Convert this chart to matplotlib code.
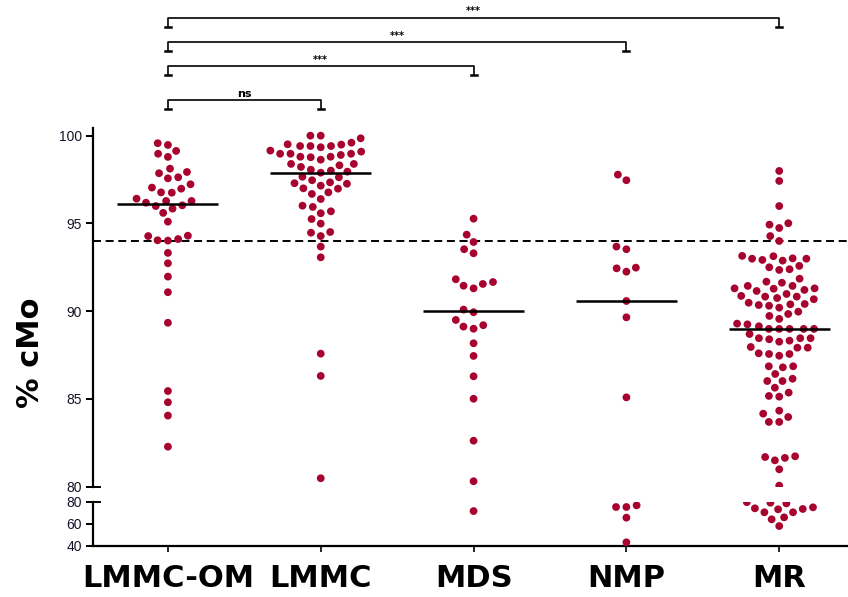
import numpy as np
import pandas as pd
import matplotlib
matplotlib.use("Agg")
import matplotlib.pyplot as plt
import seaborn as sns

# --- data (% cMo per patient) ---
groups = ["LMMC-OM", "LMMC", "MDS", "NMP", "MR"]

lmmc_om = [99.57, 99.47, 99.13, 98.97, 98.79, 98.12, 97.93, 97.86, 97.57, 97.63,
           97.23, 97.04, 96.98, 96.75, 96.77, 96.41, 96.18, 96.28, 96.28, 96.03,
           95.99, 95.84, 95.60, 95.10, 94.30, 94.28, 94.11, 94.02, 94.04, 93.32,
           92.73, 91.97, 91.08, 89.34, 85.45, 84.81, 84.05, 82.28]

lmmc = [100.0, 99.85, 100.0, 99.60, 99.34, 99.09, 99.51, 99.41, 99.15, 99.49,
        99.41, 99.41, 98.97, 98.90, 98.80, 98.80, 98.97, 98.97, 98.63, 98.77,
        98.39, 98.39, 98.31, 98.06, 98.22, 97.95, 98.01, 97.89, 97.63, 97.66,
        97.46, 97.26, 97.34, 97.29, 96.98, 97.15, 97.00, 96.77, 96.68, 96.39,
        96.01, 95.94, 95.69, 95.58, 95.25, 94.99, 94.51, 94.47, 94.28, 93.68,
        93.07, 87.58, 86.31, 80.48]

mds = [95.27, 94.36, 93.94, 93.53, 93.30, 91.82, 91.66, 91.55, 91.30, 91.45,
       90.09, 89.94, 89.50, 89.20, 89.12, 89.00, 88.17, 87.45, 86.29, 85.01,
       82.62, 80.31, 71.5]

nmp = [97.78, 97.46, 93.68, 93.53, 92.44, 92.48, 92.25, 90.58, 89.65, 85.09,
       76.7, 75.2, 75.2, 65.5, 43.1]

mr = [97.99, 97.42, 95.99, 94.74, 94.93, 95.01, 94.28, 94.00, 93.15, 92.92,
      93.01, 92.99, 92.99, 93.13, 92.88, 92.50, 92.58, 92.35, 92.39, 91.85,
      91.68, 91.44, 91.62, 91.30, 91.30, 91.15, 91.28, 90.98, 91.44, 91.21,
      90.75, 90.35, 90.48, 90.83, 90.39, 90.68, 90.31, 90.83, 90.20, 90.87,
      90.41, 89.84, 89.97, 89.73, 89.56, 89.25, 89.29, 88.99, 88.99, 88.99,
      88.99, 88.99, 89.14, 88.70, 88.26, 88.40, 88.32, 88.46, 88.46, 88.46,
      87.92, 87.92, 87.96, 87.56, 87.56, 87.46, 87.60, 86.80, 86.86, 86.86,
      86.42, 86.02, 86.02, 86.15, 85.64, 85.17, 85.13, 85.36, 84.33, 83.97,
      84.16, 83.69, 83.69, 81.73, 81.69, 81.50, 81.64, 80.99, 80.06,
      79.6, 78.5, 79.1, 74.9, 73.1, 74.0, 73.4, 70.4, 70.4, 65.8, 64.0, 57.9]

medians = [96.1, 97.9, 90.0, 90.6, 89.0]
threshold = 94

# comparisons against LMMC-OM: (group a, group b, label)
comparisons = [("LMMC-OM", "LMMC", "ns"),
               ("LMMC-OM", "MDS", "***"),
               ("LMMC-OM", "NMP", "***"),
               ("LMMC-OM", "MR", "***")]

DOT = "#A8032E"
BREAK = 80

df = pd.DataFrame({
    "group": np.repeat(groups, [len(lmmc_om), len(lmmc), len(mds), len(nmp), len(mr)]),
    "value": lmmc_om + lmmc + mds + nmp + mr,
})
df_top = df[df["value"] >= BREAK]
df_bot = df[df["value"] < BREAK]

fig = plt.figure(figsize=(8.48, 5.97), dpi=100)
ax_top = fig.add_axes([0.1097, 0.1848, 0.8903, 0.6003])
ax_bot = fig.add_axes([0.1097, 0.0859, 0.8903, 0.0737])

for ax, d in [(ax_top, df_top), (ax_bot, df_bot)]:
    # invisible edge widens the swarm spacing a little
    sns.swarmplot(data=d, x="group", y="value", order=groups, ax=ax,
                  color=DOT, size=5.6, linewidth=1.5, edgecolor="none",
                  warn_thresh=1.0)
    ax.set_xlabel("")
    ax.set_ylabel("")
    ax.set_xlim(-0.49, 4.45)
    for s in ["top", "right"]:
        ax.spines[s].set_visible(False)
    ax.spines["left"].set_linewidth(1.6)
    ax.tick_params(axis="y", length=5, width=1.4, labelsize=10, pad=3,
                   labelcolor="#15152a")

# upper panel
ax_top.set_ylim(80, 100.42)
ax_top.set_yticks([80, 85, 90, 95, 100])
ax_top.spines["bottom"].set_visible(False)
ax_top.tick_params(axis="x", bottom=False, labelbottom=False)
for lab in ax_top.get_yticklabels():
    lab.set_fontfamily("Liberation Sans")

ax_top.axhline(threshold, color="black", lw=1.4, ls=(0, (4.1, 2.4)), zorder=1)
for i, m in enumerate(medians):
    ax_top.hlines(m, i - 0.33, i + 0.33, color="black", lw=1.8, zorder=5)

# lower panel
ax_bot.set_ylim(40, 80)
ax_bot.set_yticks([40, 60, 80])
for lab in ax_bot.get_yticklabels():
    lab.set_fontfamily("Liberation Sans")
ax_bot.spines["bottom"].set_linewidth(1.6)
ax_bot.tick_params(axis="x", length=4, width=1.2, pad=9)
ax_bot.set_xticks(range(len(groups)))
ax_bot.set_xticklabels(groups, fontsize=22, fontweight="bold")

# axis break marks
for ax, yb in [(ax_top, 0), (ax_bot, 1)]:
    ax.plot([-0.0085, 0.0095], [yb, yb], transform=ax.transAxes,
            color="black", lw=1.4, clip_on=False)

# significance brackets
levels = [102.03, 103.97, 105.34, 106.71]
drop = 0.5
foot = 0.02
for (a, b, lab), lev in zip(comparisons, levels):
    xa, xb = groups.index(a), groups.index(b)
    ax_top.plot([xa, xa, xb, xb], [lev - drop, lev, lev, lev - drop],
                color="black", lw=1.2, clip_on=False)
    for xx in (xa, xb):
        ax_top.plot([xx - foot, xx + foot], [lev - drop, lev - drop],
                    color="black", lw=1.8, clip_on=False)
    ax_top.text((xa + xb) / 2, lev + 0.08, lab, ha="center", va="bottom",
                fontsize=8 if lab == "ns" else 7, fontweight="bold")

fig.text(0.036, 1 - 353 / 597, "% cMo", rotation=90, fontsize=22,
         fontweight="bold", ha="center", va="center")

fig.savefig("out.png", dpi=100)
